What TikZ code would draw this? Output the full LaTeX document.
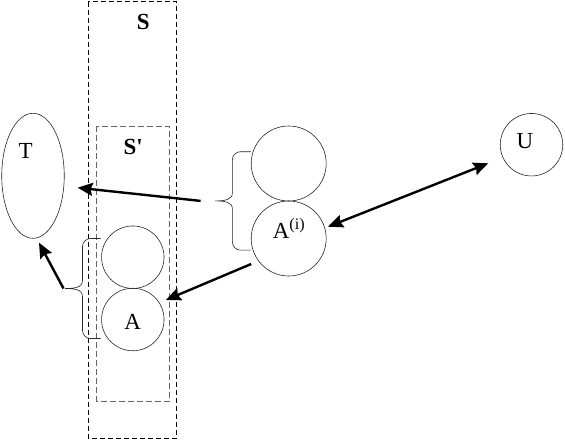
\documentclass[tikz,border=0pt]{standalone}
\usepackage{fontspec}
\setmainfont{Liberation Serif}
\usetikzlibrary{arrows.meta,positioning,calc,shapes.geometric}
\tikzset{
    every picture/.style={line join=miter},
    setframe/.style={draw=black,dash pattern=on 5pt off 3pt,line width=0.8pt},
    subframe/.style={draw=black!60,dash pattern=on 6pt off 3pt,line width=0.9pt},
    ringnode/.style={draw=black!85,circle,line width=0.6pt,inner sep=0pt,outer sep=0pt,
      minimum size=62.5pt},
    bigring/.style={ringnode,minimum size=75pt},
    ovalnode/.style={draw=black!85,ellipse,line width=0.6pt,inner sep=0pt,outer sep=0pt,
      minimum width=62.5pt,minimum height=125pt},
    setlabel/.style={font=\fontsize{23}{27}\selectfont\bfseries,inner sep=0pt},
    txtlabel/.style={inner sep=0pt},
    curl/.style={draw=black!85,line width=0.6pt},
    flowarrow/.style={-{Stealth[length=15pt,width=13pt,inset=2pt]},line width=2.4pt},
    twoway/.style={flowarrow,{Stealth[length=15pt,width=13pt,inset=2pt]}-{Stealth[length=15pt,width=13pt,inset=2pt]}}
}

\begin{document}
\begin{tikzpicture}[x=1pt,y=-1pt,font=\fontsize{23}{27}\selectfont]
  \useasboundingbox (0,0) rectangle (565,440);
  \draw[setframe] (88.3,1.7) rectangle (176.6,438);
  \draw[subframe] (96.6,126) rectangle (169.4,401);
  \node[setlabel] (Slbl) at (143.3,21.7) {S};
  \node[setlabel] (Splbl) at (133.3,146.7) {S\textquotesingle};

  \node[ovalnode] (T) at (33,175.8) {};
  \node[txtlabel] (Tlbl) at (25.6,150.8) {T};
  \node[ringnode] (lc) at (132.8,257.2) {};
  \node[ringnode] (A) at (132.8,319.5) {};
  \node[txtlabel] (Albl) at (132.7,321.7) {A};
  \node[bigring] (rc) at (288.7,163.5) {};
  \node[bigring] (Ai) at (288.7,238.5) {};
  \node[txtlabel,anchor=base] (Ailbl) at (289,238.5) {A\textsuperscript{(i)}};
  \node[ringnode] (U) at (531.5,144.7) {};
  \node[txtlabel] (Ulbl) at (525,140.8) {U};

  % end x / stem x / tip x / top / middle / bottom
  \foreach \e/\v/\t/\a/\m/\b [count=\k] in {100.5/82.5/65/238.5/288.5/338.5,
                                             251.2/232.4/215.1/151.7/200.9/250.1}{
    \draw[curl] (\e,\a) -- ({\v+8},\a) .. controls ({\v+3.6},\a) and (\v,{\a+3.6}) .. (\v,{\a+8})
      -- (\v,{\m-8}) .. controls (\v,{\m-1}) and ({\v-8},\m) .. (\t,\m)
      .. controls ({\v-8},\m) and (\v,{\m+1}) .. (\v,{\m+8})
      -- (\v,{\b-8}) .. controls (\v,{\b-3.6}) and ({\v+3.6},\b) .. ({\v+8},\b) -- (\e,\b);
    \coordinate (tip\k) at (\t,\m);}

  \draw[flowarrow] ($(tip1)+(-1.5,0)$) -- ($(T.south)+(6,4.4)$);
  \draw[flowarrow] ($(tip2)+(-14.5,0)$) -- ($(T.east)+(13.4,11.9)$);
  \draw[flowarrow] ($(Ai)+(-37.5,25.5)$) -- ($(A)+(33,-19.5)$);
  \draw[twoway] ($(Ai)+(39.3,-11.8)$) -- ($(U)+(-43.2,18.6)$);
\end{tikzpicture}
\end{document}
